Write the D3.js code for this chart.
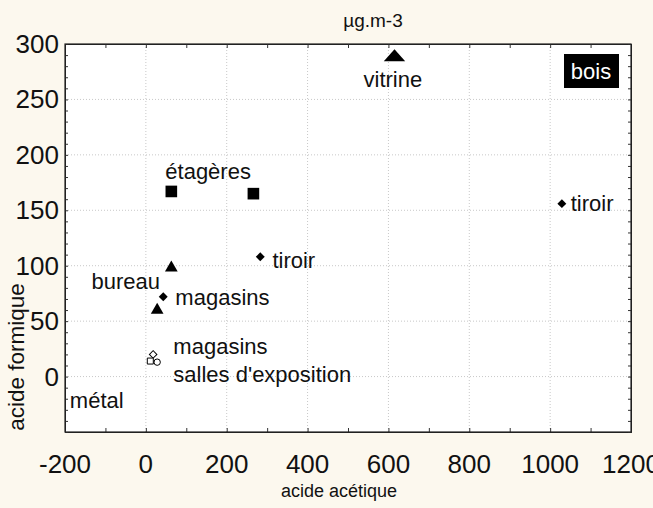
<!DOCTYPE html>
<html>
<head>
<meta charset="utf-8">
<script src="https://cdn.jsdelivr.net/npm/d3@7"></script>
<style>
  body { margin: 0; background: #fcf8ee; }
  svg { font-family: "Liberation Sans", Arial, sans-serif; }
</style>
</head>
<body>
<div class="chart"></div>
<script>
// wood sources (filled markers)
var boisX = [615, 63, 266, 283, 1029, 63, 43, 28];
var boisY = [288, 167, 165, 108, 156, 98, 72, 60];
var boisShape = ["bigTriangle", "square", "square", "diamond", "diamond", "triangle", "diamond", "triangle"];

// metal sources (open markers)
var metalX = [18, 11, 28];
var metalY = [20, 14, 13];
var metalShape = ["diamond", "square", "circle"];

// annotations
var labelText = ["vitrine", "étagères", "tiroir", "tiroir", "bureau", "magasins", "magasins", "salles d'exposition", "métal"];
var labelX = [611, 154, 313, 1051, 35, 73, 68, 68, -188];
var labelY = [261, 178, 98, 149, 79, 65, 20, -5, -28];
var labelAnchor = ["middle", "middle", "start", "start", "end", "start", "start", "start", "start"];

var xTicks = [-200, 0, 200, 400, 600, 800, 1000, 1200];
var yTicks = [0, 50, 100, 150, 200, 250, 300];

var width = 653, height = 508;
var plotLeft = 65, plotRight = 631, plotTop = 44, plotBottom = 432;

var svg = d3.select(".chart")
  .append("svg")
  .attr("width", width)
  .attr("height", height);

svg.append("rect")
  .attr("width", width)
  .attr("height", height)
  .attr("fill", "#fcf8ee");

var x = d3.scaleLinear().domain([-200, 1200]).range([plotLeft, plotRight]);
var y = d3.scaleLinear().domain([-50, 300]).range([plotBottom, plotTop]);

svg.append("rect")
  .attr("x", plotLeft)
  .attr("y", plotTop)
  .attr("width", plotRight - plotLeft)
  .attr("height", plotBottom - plotTop)
  .attr("fill", "white");

// grid
svg.selectAll(".gx")
  .data(xTicks.slice(1, -1))
  .enter().append("line")
  .attr("x1", function(d) { return x(d); })
  .attr("x2", function(d) { return x(d); })
  .attr("y1", plotTop)
  .attr("y2", plotBottom)
  .attr("stroke", "#c8c8c8")
  .attr("stroke-dasharray", "1,2");

svg.selectAll(".gy")
  .data(yTicks.slice(0, -1))
  .enter().append("line")
  .attr("y1", function(d) { return y(d); })
  .attr("y2", function(d) { return y(d); })
  .attr("x1", plotLeft)
  .attr("x2", plotRight)
  .attr("stroke", "#c8c8c8")
  .attr("stroke-dasharray", "1,2");

// axes with inside ticks on all sides
var xMinor = d3.range(-200, 1201, 100);
var yMinor = d3.range(-50, 301, 10);

svg.append("g")
  .attr("transform", "translate(0," + plotBottom + ")")
  .call(d3.axisBottom(x).tickValues(xMinor).tickSize(-4).tickFormat(""));
svg.append("g")
  .attr("transform", "translate(0," + plotTop + ")")
  .call(d3.axisTop(x).tickValues(xMinor).tickSize(-4).tickFormat(""));
svg.append("g")
  .attr("transform", "translate(" + plotLeft + ",0)")
  .call(d3.axisLeft(y).tickValues(yMinor).tickSize(-3).tickFormat(""));
svg.append("g")
  .attr("transform", "translate(" + plotRight + ",0)")
  .call(d3.axisRight(y).tickValues(yMinor).tickSize(-3).tickFormat(""));

svg.selectAll(".domain").attr("stroke", "#222");
svg.selectAll(".tick line").attr("stroke", "#333");

svg.append("rect")
  .attr("x", plotLeft)
  .attr("y", plotTop)
  .attr("width", plotRight - plotLeft)
  .attr("height", plotBottom - plotTop)
  .attr("fill", "none")
  .attr("stroke", "#222")
  .attr("stroke-width", 1.2);

// tick labels
svg.selectAll(".xl")
  .data(xTicks)
  .enter().append("text")
  .attr("x", function(d) { return x(d); })
  .attr("y", 473)
  .attr("text-anchor", "middle")
  .attr("font-size", 26)
  .attr("fill", "#111")
  .text(function(d) { return d; });

svg.selectAll(".yl")
  .data(yTicks)
  .enter().append("text")
  .attr("x", plotLeft - 6)
  .attr("y", function(d) { return y(d) + 9; })
  .attr("text-anchor", "end")
  .attr("font-size", 26)
  .attr("fill", "#111")
  .text(function(d) { return d; });

// titles
svg.append("text")
  .attr("x", 373).attr("y", 27)
  .attr("text-anchor", "middle")
  .attr("font-size", 19)
  .attr("fill", "#111")
  .text("µg.m-3");

svg.append("text")
  .attr("x", 339).attr("y", 497)
  .attr("text-anchor", "middle")
  .attr("font-size", 18)
  .attr("fill", "#111")
  .text("acide acétique");

svg.append("text")
  .attr("transform", "translate(24,357) rotate(-90)")
  .attr("text-anchor", "middle")
  .attr("font-size", 22.5)
  .attr("fill", "#111")
  .text("acide formique");

// markers
function symbolPath(shape) {
  if (shape == "bigTriangle") return d3.symbol().type(d3.symbolTriangle).size(150)();
  if (shape == "triangle") return d3.symbol().type(d3.symbolTriangle).size(70)();
  if (shape == "square") return d3.symbol().type(d3.symbolSquare).size(135)();
  if (shape == "diamond") return d3.symbol().type(d3.symbolSquare).size(40)();
  return d3.symbol().type(d3.symbolCircle).size(40)();
}
function symbolTransform(px, py, shape) {
  var t = "translate(" + px + "," + py + ")";
  if (shape == "diamond") t += " rotate(45)";
  if (shape == "bigTriangle") t += " scale(1.15,0.75)";
  return t;
}

svg.selectAll(".bois")
  .data(boisX)
  .enter().append("path")
  .attr("d", function(d, i) { return symbolPath(boisShape[i]); })
  .attr("transform", function(d, i) { return symbolTransform(x(d), y(boisY[i]), boisShape[i]); })
  .attr("fill", "black");

svg.selectAll(".metal")
  .data(metalX)
  .enter().append("path")
  .attr("d", function(d, i) {
    var s = metalShape[i];
    if (s == "diamond") return d3.symbol().type(d3.symbolSquare).size(28)();
    if (s == "square") return d3.symbol().type(d3.symbolSquare).size(36)();
    return d3.symbol().type(d3.symbolCircle).size(32)();
  })
  .attr("transform", function(d, i) {
    var t = "translate(" + x(d) + "," + y(metalY[i]) + ")";
    if (metalShape[i] == "diamond") t += " rotate(45)";
    return t;
  })
  .attr("fill", "white")
  .attr("stroke", "black")
  .attr("stroke-width", 1);

// labels
svg.selectAll(".lab")
  .data(labelText)
  .enter().append("text")
  .attr("x", function(d, i) { return x(labelX[i]); })
  .attr("y", function(d, i) { return y(labelY[i]); })
  .attr("text-anchor", function(d, i) { return labelAnchor[i]; })
  .attr("font-size", 22)
  .attr("fill", "#111")
  .text(function(d) { return d; });

// "bois" tag
svg.append("rect")
  .attr("x", 564).attr("y", 54)
  .attr("width", 55).attr("height", 34)
  .attr("fill", "black");
svg.append("text")
  .attr("x", 591).attr("y", 79)
  .attr("text-anchor", "middle")
  .attr("font-size", 22)
  .attr("fill", "white")
  .text("bois");
</script>
</body>
</html>
